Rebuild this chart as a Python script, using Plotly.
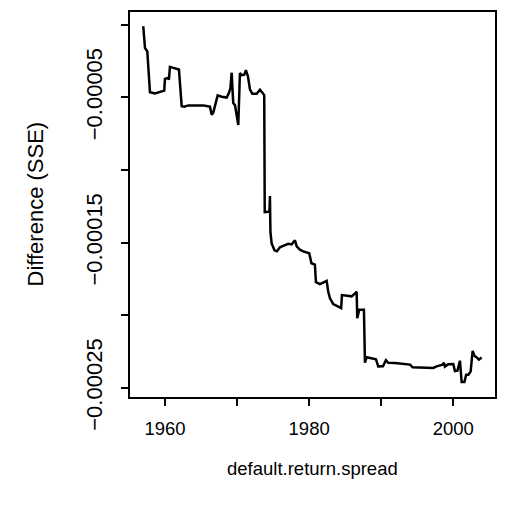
import plotly.graph_objects as go

# Cumulative difference in squared errors for the default return spread predictor
years = [
    1956.99, 1957.23, 1957.55, 1957.78, 1957.92, 1958.61, 1959.03, 1959.54, 1959.90, 1960.00,
    1960.37, 1960.55, 1960.69, 1961.15, 1961.94, 1962.32, 1962.68, 1963.23, 1965.31, 1966.24,
    1966.48, 1966.70, 1967.03, 1967.31, 1967.86, 1968.09, 1968.56, 1968.88, 1969.08, 1969.25,
    1969.47, 1969.71, 1970.08, 1970.17, 1970.40, 1970.64, 1971.00, 1971.23, 1971.51, 1971.79,
    1972.11, 1972.72, 1973.18, 1973.52, 1973.77, 1973.84, 1974.22, 1974.49, 1974.56, 1974.63,
    1974.80, 1975.19, 1975.53, 1975.95, 1976.41, 1977.10, 1977.57, 1978.03, 1978.27, 1978.72,
    1979.18, 1979.65, 1980.01, 1980.32, 1980.80, 1980.94, 1981.50, 1982.43, 1982.65, 1982.89,
    1983.34, 1984.04, 1984.44, 1984.55, 1985.20, 1985.89, 1986.28, 1986.59, 1986.67, 1986.95,
    1987.60, 1987.74, 1987.98, 1988.67, 1989.27, 1989.58, 1990.24, 1990.65, 1990.97, 1991.90,
    1993.98, 1994.36, 1997.21, 1997.68, 1998.52, 1998.70, 1998.83, 1999.29, 1999.99, 2000.22,
    2000.57, 2000.92, 2001.15, 2001.54, 2001.78, 2002.09, 2002.40, 2002.68, 2002.93, 2003.20,
    2003.55, 2003.93,
]
sse_diff = [
    -0.10e-5, -1.60e-5, -1.83e-5, -3.42e-5, -4.64e-5, -4.73e-5, -4.67e-5, -4.57e-5, -4.53e-5, -3.73e-5,
    -3.66e-5, -3.77e-5, -2.90e-5, -2.97e-5, -3.08e-5, -5.60e-5, -5.64e-5, -5.55e-5, -5.55e-5, -5.64e-5,
    -6.19e-5, -6.05e-5, -5.48e-5, -4.86e-5, -4.95e-5, -4.98e-5, -5.01e-5, -4.68e-5, -4.36e-5, -3.30e-5,
    -5.39e-5, -5.53e-5, -6.49e-5, -6.90e-5, -3.32e-5, -3.47e-5, -3.44e-5, -3.13e-5, -3.54e-5, -4.45e-5,
    -4.75e-5, -4.75e-5, -4.47e-5, -4.68e-5, -4.84e-5, -12.90e-5, -12.90e-5, -12.86e-5, -11.79e-5, -14.27e-5,
    -15.05e-5, -15.53e-5, -15.60e-5, -15.32e-5, -15.22e-5, -15.08e-5, -15.12e-5, -14.84e-5, -15.25e-5, -15.49e-5,
    -15.60e-5, -15.66e-5, -15.73e-5, -16.42e-5, -16.52e-5, -17.72e-5, -17.86e-5, -17.63e-5, -18.38e-5, -18.84e-5,
    -19.23e-5, -19.40e-5, -19.50e-5, -18.61e-5, -18.64e-5, -18.70e-5, -18.54e-5, -18.38e-5, -20.21e-5, -19.62e-5,
    -19.62e-5, -23.27e-5, -22.89e-5, -22.96e-5, -23.03e-5, -23.52e-5, -23.51e-5, -23.10e-5, -23.27e-5, -23.29e-5,
    -23.40e-5, -23.59e-5, -23.63e-5, -23.52e-5, -23.40e-5, -23.27e-5, -23.54e-5, -23.37e-5, -23.36e-5, -23.85e-5,
    -23.82e-5, -23.13e-5, -24.60e-5, -24.60e-5, -24.09e-5, -24.09e-5, -23.88e-5, -22.45e-5, -22.79e-5, -22.89e-5,
    -23.06e-5, -22.91e-5,
]

x_tickvals = [1960, 1970, 1980, 1990, 2000]
x_ticktext = ["1960", "", "1980", "", "2000"]
y_tickvals = [0.0, -0.00005, -0.0001, -0.00015, -0.0002, -0.00025]
y_ticktext = ["", "\u22120.00005", "", "\u22120.00015", "", "\u22120.00025"]

FONT = "Liberation Sans, Arial, sans-serif"
SIZE_H = 18.5   # horizontal text (x axis)
SIZE_V = 22     # rotated text (y axis)

fig = go.Figure(
    go.Scatter(
        x=years, y=sse_diff, mode="lines",
        line=dict(color="black", width=2.5, shape="linear"),
        showlegend=False, hoverinfo="skip",
    )
)

axis_common = dict(
    showgrid=False, zeroline=False,
    showline=True, linecolor="black", linewidth=1.5, mirror=True,
    ticks="outside", ticklen=7, tickwidth=1.5, tickcolor="black",
)

fig.update_xaxes(
    range=[1955.15, 2005.78], tickmode="array",
    tickvals=x_tickvals, ticktext=x_ticktext, ticklabelstandoff=7,
    tickfont=dict(family=FONT, size=SIZE_H, color="black"),
    **axis_common,
)
fig.update_yaxes(
    range=[-0.0002563, 0.0000088], tickmode="array",
    tickvals=y_tickvals, ticktext=y_ticktext, tickangle=-90, ticklabelstandoff=10,
    tickfont=dict(family=FONT, size=SIZE_V, color="black"),
    **axis_common,
)

fig.update_layout(
    width=507, height=518,
    margin=dict(l=130, r=12, t=10, b=121),
    paper_bgcolor="white", plot_bgcolor="white",
    annotations=[
        dict(text="default.return.spread", xref="paper", yref="paper",
             x=0.5, y=0, xanchor="center", yanchor="middle", yshift=-71,
             showarrow=False, font=dict(family=FONT, size=SIZE_H, color="black")),
        dict(text="Difference (SSE)", xref="paper", yref="paper",
             x=0, y=0.5, xanchor="center", yanchor="middle", xshift=-95,
             textangle=-90, showarrow=False,
             font=dict(family=FONT, size=SIZE_V, color="black")),
    ],
)

fig.write_html("out.html")
